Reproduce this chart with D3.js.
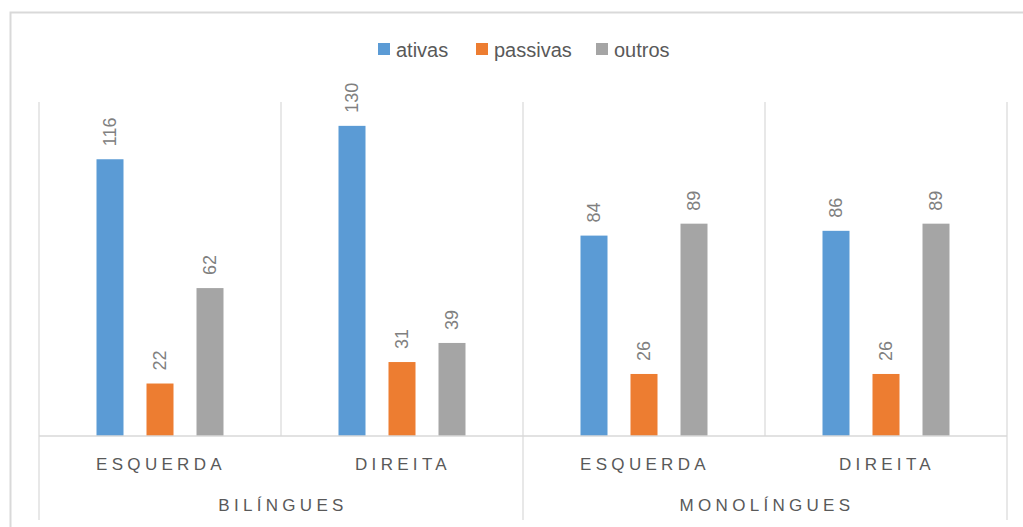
<!DOCTYPE html>
<html><head><meta charset="utf-8">
<script src="https://cdn.jsdelivr.net/npm/d3@7"></script>
<style>body{margin:0;background:#fff}svg{display:block}</style>
</head><body>
<svg id="c" width="1023" height="527"></svg>
<script>
const categories = ["ESQUERDA", "DIREITA", "ESQUERDA", "DIREITA"];
const groups = ["BILÍNGUES", "BILÍNGUES", "MONOLÍNGUES", "MONOLÍNGUES"];
const groupNames = ["BILÍNGUES", "MONOLÍNGUES"];
const seriesNames = ["ativas", "passivas", "outros"];
const ativas = [116, 130, 84, 86];
const passivas = [22, 31, 26, 26];
const outros = [62, 39, 89, 89];
const colors = ["#5B9BD5", "#ED7D31", "#A5A5A5"];

const seriesVals = [ativas, passivas, outros];
const svg = d3.select("#c");
const font = "'Liberation Sans', Arial, sans-serif";
const L = 39, R = 1007, T = 102, B = 436;

// outer chart border
svg.append("rect").attr("x", 10.5).attr("y", 12.5).attr("width", 1040).attr("height", 540)
  .attr("fill", "none").attr("stroke", "#d9d9d9").attr("stroke-width", 2);

const idx = categories.map((_, i) => i);
const x = d3.scaleBand().domain(idx).range([L, R]).padding(0);
const xs = d3.scaleBand().domain(seriesNames).range([0, x.bandwidth()]).paddingInner(0.46).paddingOuter(1.15);
const y = d3.scaleLinear().domain([0, 140]).range([B, T]);

const grid = "#d9d9d9";
// vertical gridlines at category boundaries
const bounds = idx.map(i => x(i)).concat([R]);
svg.append("g").selectAll("line").data(bounds).join("line")
  .attr("x1", d => d).attr("x2", d => d).attr("y1", T).attr("y2", B)
  .attr("stroke", grid).attr("stroke-width", 1.2);
// group separator lines below axis
const gx = d3.scaleBand().domain(groupNames).range([L, R]);
const gb = groupNames.map(g => gx(g)).concat([R]);
svg.append("g").selectAll("line").data(gb).join("line")
  .attr("x1", d => d).attr("x2", d => d).attr("y1", B).attr("y2", 520)
  .attr("stroke", grid).attr("stroke-width", 1.2);

// bars
seriesNames.forEach((s, si) => {
  const g = svg.append("g");
  g.selectAll("rect").data(seriesVals[si]).join("rect")
    .attr("x", (d, i) => x(i) + xs(s))
    .attr("y", d => y(d))
    .attr("width", xs.bandwidth())
    .attr("height", d => B - y(d))
    .attr("fill", colors[si]);
  g.selectAll("text").data(seriesVals[si]).join("text")
    .attr("transform", (d, i) => `translate(${x(i) + xs(s) + xs.bandwidth() / 2 + 6},${y(d) - 13}) rotate(-90)`)
    .attr("font-family", font).attr("font-size", 18).attr("fill", "#808080")
    .text(d => d);
});

// baseline
svg.append("line").attr("x1", L).attr("x2", R).attr("y1", B).attr("y2", B)
  .attr("stroke", grid).attr("stroke-width", 1.5);

// category labels
svg.append("g").selectAll("text").data(categories).join("text")
  .attr("x", (d, i) => x(i) + x.bandwidth() / 2 + 1)
  .attr("y", 470)
  .attr("text-anchor", "middle")
  .attr("font-family", font).attr("font-size", 17).attr("letter-spacing", "4.3px")
  .attr("fill", "#595959").text(d => d);

// group labels
svg.append("g").selectAll("text").data(groupNames).join("text")
  .attr("x", d => gx(d) + gx.bandwidth() / 2 + 2)
  .attr("y", 511)
  .attr("text-anchor", "middle")
  .attr("font-family", font).attr("font-size", 17).attr("letter-spacing", "4.3px")
  .attr("fill", "#595959").text(d => d);

// legend
const legX = [378, 476, 596];
const lg = svg.append("g");
seriesNames.forEach((s, si) => {
  lg.append("rect").attr("x", legX[si]).attr("y", 43).attr("width", 12).attr("height", 12).attr("fill", colors[si]);
  lg.append("text").attr("x", legX[si] + 18).attr("y", 57)
    .attr("font-family", font).attr("font-size", 20).attr("fill", "#595959").text(s);
});
</script>
</body></html>
